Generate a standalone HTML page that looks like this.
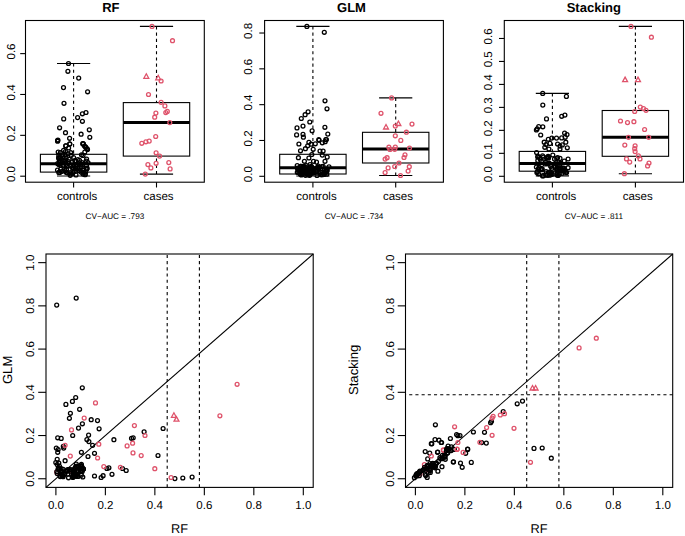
<!DOCTYPE html>
<html><head><meta charset="utf-8"><style>
html,body{margin:0;padding:0;background:#fff;}
svg{display:block;}
text{font-family:"Liberation Sans",sans-serif;fill:#000;stroke:none;text-rendering:geometricPrecision;}
</style></head><body>
<svg width="685" height="536" viewBox="0 0 685 536" stroke="#000" fill="none">
<rect x="0" y="0" width="685" height="536" fill="#fff" stroke="none"/>
<g stroke="#000">
<rect x="25.5" y="20.5" width="178.80" height="161.70" stroke-width="1.1" fill="none"/>
<text x="110.9" y="12.0" font-size="13" text-anchor="middle" font-weight="bold">RF</text>
<line x1="20.2" y1="176.2" x2="25.5" y2="176.2" stroke-width="1.1"/>
<text x="0" y="0" transform="translate(15.1,174.1) rotate(-90)" font-size="11.5" text-anchor="middle" font-weight="normal">0.0</text>
<line x1="20.2" y1="135.33999999999997" x2="25.5" y2="135.33999999999997" stroke-width="1.1"/>
<text x="0" y="0" transform="translate(15.1,133.24) rotate(-90)" font-size="11.5" text-anchor="middle" font-weight="normal">0.2</text>
<line x1="20.2" y1="94.47999999999998" x2="25.5" y2="94.47999999999998" stroke-width="1.1"/>
<text x="0" y="0" transform="translate(15.1,92.38) rotate(-90)" font-size="11.5" text-anchor="middle" font-weight="normal">0.4</text>
<line x1="20.2" y1="53.61999999999999" x2="25.5" y2="53.61999999999999" stroke-width="1.1"/>
<text x="0" y="0" transform="translate(15.1,51.52) rotate(-90)" font-size="11.5" text-anchor="middle" font-weight="normal">0.6</text>
<line x1="73.6" y1="182.2" x2="73.6" y2="187.5" stroke-width="1.1"/>
<line x1="156.5" y1="182.2" x2="156.5" y2="187.5" stroke-width="1.1"/>
<text x="77.1" y="199.5" font-size="11.5" text-anchor="middle" font-weight="normal">controls</text>
<text x="158.6" y="199.5" font-size="11.5" text-anchor="middle" font-weight="normal">cases</text>
<text x="114.9" y="218.8" font-size="8.2" text-anchor="middle" font-weight="normal">CV&#8722;AUC = .793</text>
<line x1="73.6" y1="63.5" x2="73.6" y2="154.3" stroke-width="1.1" stroke-dasharray="3.1 3.1"/>
<line x1="73.6" y1="176.0" x2="73.6" y2="172.1" stroke-width="1.1" stroke-dasharray="3.1 3.1"/>
<line x1="56.99999999999999" y1="63.5" x2="90.19999999999999" y2="63.5" stroke-width="1.1"/>
<line x1="56.99999999999999" y1="176.0" x2="90.19999999999999" y2="176.0" stroke-width="1.1"/>
<rect x="40.40" y="154.3" width="66.40" height="17.80" stroke-width="1.1" fill="none"/>
<line x1="40.39999999999999" y1="163.7" x2="106.8" y2="163.7" stroke-width="3.0"/>
<line x1="156.5" y1="26.4" x2="156.5" y2="102.6" stroke-width="1.1" stroke-dasharray="3.1 3.1"/>
<line x1="156.5" y1="174.1" x2="156.5" y2="156.1" stroke-width="1.1" stroke-dasharray="3.1 3.1"/>
<line x1="139.9" y1="26.4" x2="173.1" y2="26.4" stroke-width="1.1"/>
<line x1="139.9" y1="174.1" x2="173.1" y2="174.1" stroke-width="1.1"/>
<rect x="123.30" y="102.6" width="66.40" height="53.50" stroke-width="1.1" fill="none"/>
<line x1="123.3" y1="122.4" x2="189.7" y2="122.4" stroke-width="3.0"/>
<rect x="264.6" y="20.5" width="178.80" height="161.70" stroke-width="1.1" fill="none"/>
<text x="351.5" y="12.0" font-size="13" text-anchor="middle" font-weight="bold">GLM</text>
<line x1="259.3" y1="176.3" x2="264.6" y2="176.3" stroke-width="1.1"/>
<text x="0" y="0" transform="translate(252.3,174.2) rotate(-90)" font-size="11.5" text-anchor="middle" font-weight="normal">0.0</text>
<line x1="259.3" y1="140.48000000000002" x2="264.6" y2="140.48000000000002" stroke-width="1.1"/>
<text x="0" y="0" transform="translate(252.3,138.38) rotate(-90)" font-size="11.5" text-anchor="middle" font-weight="normal">0.2</text>
<line x1="259.3" y1="104.66000000000001" x2="264.6" y2="104.66000000000001" stroke-width="1.1"/>
<text x="0" y="0" transform="translate(252.3,102.56) rotate(-90)" font-size="11.5" text-anchor="middle" font-weight="normal">0.4</text>
<line x1="259.3" y1="68.84000000000002" x2="264.6" y2="68.84000000000002" stroke-width="1.1"/>
<text x="0" y="0" transform="translate(252.3,66.74) rotate(-90)" font-size="11.5" text-anchor="middle" font-weight="normal">0.6</text>
<line x1="259.3" y1="33.02000000000001" x2="264.6" y2="33.02000000000001" stroke-width="1.1"/>
<text x="0" y="0" transform="translate(252.3,30.92) rotate(-90)" font-size="11.5" text-anchor="middle" font-weight="normal">0.8</text>
<line x1="312.9" y1="182.2" x2="312.9" y2="187.5" stroke-width="1.1"/>
<line x1="395.7" y1="182.2" x2="395.7" y2="187.5" stroke-width="1.1"/>
<text x="316.5" y="199.5" font-size="11.5" text-anchor="middle" font-weight="normal">controls</text>
<text x="398.0" y="199.5" font-size="11.5" text-anchor="middle" font-weight="normal">cases</text>
<text x="354.0" y="218.8" font-size="8.2" text-anchor="middle" font-weight="normal">CV&#8722;AUC = .734</text>
<line x1="312.9" y1="26.4" x2="312.9" y2="154.3" stroke-width="1.1" stroke-dasharray="3.1 3.1"/>
<line x1="312.9" y1="176.0" x2="312.9" y2="174.0" stroke-width="1.1" stroke-dasharray="3.1 3.1"/>
<line x1="296.29999999999995" y1="26.4" x2="329.5" y2="26.4" stroke-width="1.1"/>
<line x1="296.29999999999995" y1="176.0" x2="329.5" y2="176.0" stroke-width="1.1"/>
<rect x="279.70" y="154.3" width="66.40" height="19.70" stroke-width="1.1" fill="none"/>
<line x1="279.7" y1="167.7" x2="346.09999999999997" y2="167.7" stroke-width="3.0"/>
<line x1="395.7" y1="97.9" x2="395.7" y2="132.3" stroke-width="1.1" stroke-dasharray="3.1 3.1"/>
<line x1="395.7" y1="175.5" x2="395.7" y2="163.0" stroke-width="1.1" stroke-dasharray="3.1 3.1"/>
<line x1="379.09999999999997" y1="97.9" x2="412.3" y2="97.9" stroke-width="1.1"/>
<line x1="379.09999999999997" y1="175.5" x2="412.3" y2="175.5" stroke-width="1.1"/>
<rect x="362.50" y="132.3" width="66.40" height="30.70" stroke-width="1.1" fill="none"/>
<line x1="362.5" y1="148.9" x2="428.9" y2="148.9" stroke-width="3.0"/>
<rect x="504.3" y="20.5" width="179.20" height="161.70" stroke-width="1.1" fill="none"/>
<text x="593.8" y="12.0" font-size="13" text-anchor="middle" font-weight="bold">Stacking</text>
<line x1="499.0" y1="176.3" x2="504.3" y2="176.3" stroke-width="1.1"/>
<text x="0" y="0" transform="translate(491.8,174.2) rotate(-90)" font-size="11.5" text-anchor="middle" font-weight="normal">0.0</text>
<line x1="499.0" y1="153.33" x2="504.3" y2="153.33" stroke-width="1.1"/>
<text x="0" y="0" transform="translate(491.8,151.23) rotate(-90)" font-size="11.5" text-anchor="middle" font-weight="normal">0.1</text>
<line x1="499.0" y1="130.36" x2="504.3" y2="130.36" stroke-width="1.1"/>
<text x="0" y="0" transform="translate(491.8,128.26) rotate(-90)" font-size="11.5" text-anchor="middle" font-weight="normal">0.2</text>
<line x1="499.0" y1="107.39000000000001" x2="504.3" y2="107.39000000000001" stroke-width="1.1"/>
<text x="0" y="0" transform="translate(491.8,105.29) rotate(-90)" font-size="11.5" text-anchor="middle" font-weight="normal">0.3</text>
<line x1="499.0" y1="84.42000000000002" x2="504.3" y2="84.42000000000002" stroke-width="1.1"/>
<text x="0" y="0" transform="translate(491.8,82.32) rotate(-90)" font-size="11.5" text-anchor="middle" font-weight="normal">0.4</text>
<line x1="499.0" y1="61.45000000000002" x2="504.3" y2="61.45000000000002" stroke-width="1.1"/>
<text x="0" y="0" transform="translate(491.8,59.35) rotate(-90)" font-size="11.5" text-anchor="middle" font-weight="normal">0.5</text>
<line x1="499.0" y1="38.48000000000002" x2="504.3" y2="38.48000000000002" stroke-width="1.1"/>
<text x="0" y="0" transform="translate(491.8,36.38) rotate(-90)" font-size="11.5" text-anchor="middle" font-weight="normal">0.6</text>
<line x1="552.4" y1="182.2" x2="552.4" y2="187.5" stroke-width="1.1"/>
<line x1="635.4" y1="182.2" x2="635.4" y2="187.5" stroke-width="1.1"/>
<text x="556.2" y="199.5" font-size="11.5" text-anchor="middle" font-weight="normal">controls</text>
<text x="637.7" y="199.5" font-size="11.5" text-anchor="middle" font-weight="normal">cases</text>
<text x="593.9" y="218.8" font-size="8.2" text-anchor="middle" font-weight="normal">CV&#8722;AUC = .811</text>
<line x1="552.4" y1="93.4" x2="552.4" y2="151.4" stroke-width="1.1" stroke-dasharray="3.1 3.1"/>
<line x1="552.4" y1="175.9" x2="552.4" y2="171.2" stroke-width="1.1" stroke-dasharray="3.1 3.1"/>
<line x1="535.8" y1="93.4" x2="569.0" y2="93.4" stroke-width="1.1"/>
<line x1="535.8" y1="175.9" x2="569.0" y2="175.9" stroke-width="1.1"/>
<rect x="519.20" y="151.4" width="66.40" height="19.80" stroke-width="1.1" fill="none"/>
<line x1="519.1999999999999" y1="163.6" x2="585.6" y2="163.6" stroke-width="3.0"/>
<line x1="635.4" y1="26.4" x2="635.4" y2="110.5" stroke-width="1.1" stroke-dasharray="3.1 3.1"/>
<line x1="635.4" y1="173.7" x2="635.4" y2="156.3" stroke-width="1.1" stroke-dasharray="3.1 3.1"/>
<line x1="618.8" y1="26.4" x2="652.0" y2="26.4" stroke-width="1.1"/>
<line x1="618.8" y1="173.7" x2="652.0" y2="173.7" stroke-width="1.1"/>
<rect x="602.20" y="110.5" width="66.40" height="45.80" stroke-width="1.1" fill="none"/>
<line x1="602.1999999999999" y1="137.3" x2="668.6" y2="137.3" stroke-width="3.0"/>
<rect x="46.0" y="254.0" width="267.20" height="233.40" stroke-width="1.1" fill="none"/>
<line x1="55.8962962962963" y1="487.4" x2="55.8962962962963" y2="495.2" stroke-width="1.1"/>
<text x="55.8962962962963" y="508.6" font-size="11.5" text-anchor="middle" font-weight="normal">0.0</text>
<line x1="38.2" y1="478.75555555555553" x2="46.0" y2="478.75555555555553" stroke-width="1.1"/>
<text x="0" y="0" transform="translate(34.0,478.75555555555553) rotate(-90)" font-size="11.5" text-anchor="middle" font-weight="normal">0.0</text>
<line x1="105.37777777777778" y1="487.4" x2="105.37777777777778" y2="495.2" stroke-width="1.1"/>
<text x="105.37777777777778" y="508.6" font-size="11.5" text-anchor="middle" font-weight="normal">0.2</text>
<line x1="38.2" y1="435.5333333333333" x2="46.0" y2="435.5333333333333" stroke-width="1.1"/>
<text x="0" y="0" transform="translate(34.0,435.5333333333333) rotate(-90)" font-size="11.5" text-anchor="middle" font-weight="normal">0.2</text>
<line x1="154.85925925925926" y1="487.4" x2="154.85925925925926" y2="495.2" stroke-width="1.1"/>
<text x="154.85925925925926" y="508.6" font-size="11.5" text-anchor="middle" font-weight="normal">0.4</text>
<line x1="38.2" y1="392.3111111111111" x2="46.0" y2="392.3111111111111" stroke-width="1.1"/>
<text x="0" y="0" transform="translate(34.0,392.3111111111111) rotate(-90)" font-size="11.5" text-anchor="middle" font-weight="normal">0.4</text>
<line x1="204.34074074074076" y1="487.4" x2="204.34074074074076" y2="495.2" stroke-width="1.1"/>
<text x="204.34074074074076" y="508.6" font-size="11.5" text-anchor="middle" font-weight="normal">0.6</text>
<line x1="38.2" y1="349.08888888888885" x2="46.0" y2="349.08888888888885" stroke-width="1.1"/>
<text x="0" y="0" transform="translate(34.0,349.08888888888885) rotate(-90)" font-size="11.5" text-anchor="middle" font-weight="normal">0.6</text>
<line x1="253.82222222222222" y1="487.4" x2="253.82222222222222" y2="495.2" stroke-width="1.1"/>
<text x="253.82222222222222" y="508.6" font-size="11.5" text-anchor="middle" font-weight="normal">0.8</text>
<line x1="38.2" y1="305.8666666666667" x2="46.0" y2="305.8666666666667" stroke-width="1.1"/>
<text x="0" y="0" transform="translate(34.0,305.8666666666667) rotate(-90)" font-size="11.5" text-anchor="middle" font-weight="normal">0.8</text>
<line x1="303.3037037037037" y1="487.4" x2="303.3037037037037" y2="495.2" stroke-width="1.1"/>
<text x="303.3037037037037" y="508.6" font-size="11.5" text-anchor="middle" font-weight="normal">1.0</text>
<line x1="38.2" y1="262.64444444444445" x2="46.0" y2="262.64444444444445" stroke-width="1.1"/>
<text x="0" y="0" transform="translate(34.0,262.64444444444445) rotate(-90)" font-size="11.5" text-anchor="middle" font-weight="normal">1.0</text>
<text x="179.6" y="533.0" font-size="12.8" text-anchor="middle" font-weight="normal">RF</text>
<text x="0" y="0" transform="translate(11.7,369.9) rotate(-90)" font-size="13.1" text-anchor="middle" font-weight="normal">GLM</text>
<line x1="46.0" y1="487.4" x2="313.2" y2="254.0" stroke-width="1.1"/>
<line x1="167.2" y1="487.4" x2="167.2" y2="254.0" stroke-width="1.1" stroke-dasharray="3.1 3.1"/>
<line x1="199.4" y1="487.4" x2="199.4" y2="254.0" stroke-width="1.1" stroke-dasharray="3.1 3.1"/>
<rect x="405.5" y="254.0" width="267.20" height="233.40" stroke-width="1.1" fill="none"/>
<line x1="415.39629629629627" y1="487.4" x2="415.39629629629627" y2="495.2" stroke-width="1.1"/>
<text x="415.39629629629627" y="508.6" font-size="11.5" text-anchor="middle" font-weight="normal">0.0</text>
<line x1="397.7" y1="478.75555555555553" x2="405.5" y2="478.75555555555553" stroke-width="1.1"/>
<text x="0" y="0" transform="translate(393.5,478.75555555555553) rotate(-90)" font-size="11.5" text-anchor="middle" font-weight="normal">0.0</text>
<line x1="464.87777777777774" y1="487.4" x2="464.87777777777774" y2="495.2" stroke-width="1.1"/>
<text x="464.87777777777774" y="508.6" font-size="11.5" text-anchor="middle" font-weight="normal">0.2</text>
<line x1="397.7" y1="435.5333333333333" x2="405.5" y2="435.5333333333333" stroke-width="1.1"/>
<text x="0" y="0" transform="translate(393.5,435.5333333333333) rotate(-90)" font-size="11.5" text-anchor="middle" font-weight="normal">0.2</text>
<line x1="514.3592592592593" y1="487.4" x2="514.3592592592593" y2="495.2" stroke-width="1.1"/>
<text x="514.3592592592593" y="508.6" font-size="11.5" text-anchor="middle" font-weight="normal">0.4</text>
<line x1="397.7" y1="392.3111111111111" x2="405.5" y2="392.3111111111111" stroke-width="1.1"/>
<text x="0" y="0" transform="translate(393.5,392.3111111111111) rotate(-90)" font-size="11.5" text-anchor="middle" font-weight="normal">0.4</text>
<line x1="563.8407407407408" y1="487.4" x2="563.8407407407408" y2="495.2" stroke-width="1.1"/>
<text x="563.8407407407408" y="508.6" font-size="11.5" text-anchor="middle" font-weight="normal">0.6</text>
<line x1="397.7" y1="349.08888888888885" x2="405.5" y2="349.08888888888885" stroke-width="1.1"/>
<text x="0" y="0" transform="translate(393.5,349.08888888888885) rotate(-90)" font-size="11.5" text-anchor="middle" font-weight="normal">0.6</text>
<line x1="613.3222222222223" y1="487.4" x2="613.3222222222223" y2="495.2" stroke-width="1.1"/>
<text x="613.3222222222223" y="508.6" font-size="11.5" text-anchor="middle" font-weight="normal">0.8</text>
<line x1="397.7" y1="305.8666666666667" x2="405.5" y2="305.8666666666667" stroke-width="1.1"/>
<text x="0" y="0" transform="translate(393.5,305.8666666666667) rotate(-90)" font-size="11.5" text-anchor="middle" font-weight="normal">0.8</text>
<line x1="662.8037037037037" y1="487.4" x2="662.8037037037037" y2="495.2" stroke-width="1.1"/>
<text x="662.8037037037037" y="508.6" font-size="11.5" text-anchor="middle" font-weight="normal">1.0</text>
<line x1="397.7" y1="262.64444444444445" x2="405.5" y2="262.64444444444445" stroke-width="1.1"/>
<text x="0" y="0" transform="translate(393.5,262.64444444444445) rotate(-90)" font-size="11.5" text-anchor="middle" font-weight="normal">1.0</text>
<text x="539.1" y="533.0" font-size="12.8" text-anchor="middle" font-weight="normal">RF</text>
<text x="0" y="0" transform="translate(357.8,369.9) rotate(-90)" font-size="13.1" text-anchor="middle" font-weight="normal">Stacking</text>
<line x1="405.5" y1="487.4" x2="672.7" y2="254.0" stroke-width="1.1"/>
<line x1="526.7" y1="487.4" x2="526.7" y2="254.0" stroke-width="1.1" stroke-dasharray="3.1 3.1"/>
<line x1="558.9" y1="487.4" x2="558.9" y2="254.0" stroke-width="1.1" stroke-dasharray="3.1 3.1"/>
<line x1="672.7" y1="394.7" x2="405.5" y2="394.7" stroke-width="1.1" stroke-dasharray="3.1 3.1"/>
<g fill="none" stroke-width="1.3">
<circle cx="68.5" cy="63.5" r="1.95" stroke="#000000"/>
<circle cx="67.9" cy="71.3" r="1.95" stroke="#000000"/>
<circle cx="78.7" cy="78.1" r="1.95" stroke="#000000"/>
<circle cx="63.5" cy="87.6" r="1.95" stroke="#000000"/>
<circle cx="87.6" cy="91.8" r="1.95" stroke="#000000"/>
<circle cx="64.0" cy="103.3" r="1.95" stroke="#000000"/>
<circle cx="86.0" cy="112.5" r="1.95" stroke="#000000"/>
<circle cx="82.4" cy="113.8" r="1.95" stroke="#000000"/>
<circle cx="77.6" cy="117.6" r="1.95" stroke="#000000"/>
<circle cx="82.4" cy="121.3" r="1.95" stroke="#000000"/>
<circle cx="63.7" cy="118.9" r="1.95" stroke="#000000"/>
<circle cx="59.6" cy="127.8" r="1.95" stroke="#000000"/>
<circle cx="89.3" cy="129.8" r="1.95" stroke="#000000"/>
<circle cx="65.5" cy="132.7" r="1.95" stroke="#000000"/>
<circle cx="81.1" cy="134.2" r="1.95" stroke="#000000"/>
<circle cx="69.6" cy="138.3" r="1.95" stroke="#000000"/>
<circle cx="89.8" cy="137.3" r="1.95" stroke="#000000"/>
<circle cx="57.6" cy="140.5" r="1.95" stroke="#000000"/>
<circle cx="57.9" cy="140.0" r="1.95" stroke="#000000"/>
<circle cx="69.8" cy="144.1" r="1.95" stroke="#000000"/>
<circle cx="65.8" cy="145.8" r="1.95" stroke="#000000"/>
<circle cx="83.4" cy="143.9" r="1.95" stroke="#000000"/>
<circle cx="85.5" cy="146.8" r="1.95" stroke="#000000"/>
<circle cx="87.0" cy="148.8" r="1.95" stroke="#000000"/>
<circle cx="68.6" cy="148.0" r="1.95" stroke="#000000"/>
<circle cx="58.2" cy="152.1" r="1.95" stroke="#000000"/>
<circle cx="65.8" cy="145.9" r="1.95" stroke="#000000"/>
<circle cx="69.7" cy="143.9" r="1.95" stroke="#000000"/>
<circle cx="83.0" cy="143.9" r="1.95" stroke="#000000"/>
<circle cx="57.6" cy="141.2" r="1.95" stroke="#000000"/>
<circle cx="82.8" cy="143.5" r="1.95" stroke="#000000"/>
<circle cx="84.5" cy="146.0" r="1.95" stroke="#000000"/>
<circle cx="86.0" cy="147.5" r="1.95" stroke="#000000"/>
<circle cx="87.5" cy="149.4" r="1.95" stroke="#000000"/>
<circle cx="306.9" cy="26.4" r="1.95" stroke="#000000"/>
<circle cx="324.3" cy="32.3" r="1.95" stroke="#000000"/>
<circle cx="325.0" cy="100.8" r="1.95" stroke="#000000"/>
<circle cx="327.0" cy="108.8" r="1.95" stroke="#000000"/>
<circle cx="308.1" cy="111.8" r="1.95" stroke="#000000"/>
<circle cx="305.1" cy="114.7" r="1.95" stroke="#000000"/>
<circle cx="301.3" cy="118.5" r="1.95" stroke="#000000"/>
<circle cx="309.8" cy="122.0" r="1.95" stroke="#000000"/>
<circle cx="303.0" cy="126.1" r="1.95" stroke="#000000"/>
<circle cx="297.0" cy="127.9" r="1.95" stroke="#000000"/>
<circle cx="324.9" cy="127.3" r="1.95" stroke="#000000"/>
<circle cx="312.1" cy="130.8" r="1.95" stroke="#000000"/>
<circle cx="296.6" cy="134.9" r="1.95" stroke="#000000"/>
<circle cx="303.0" cy="134.3" r="1.95" stroke="#000000"/>
<circle cx="303.4" cy="137.2" r="1.95" stroke="#000000"/>
<circle cx="327.8" cy="134.1" r="1.95" stroke="#000000"/>
<circle cx="318.8" cy="139.6" r="1.95" stroke="#000000"/>
<circle cx="325.8" cy="139.6" r="1.95" stroke="#000000"/>
<circle cx="298.9" cy="144.0" r="1.95" stroke="#000000"/>
<circle cx="308.9" cy="142.3" r="1.95" stroke="#000000"/>
<circle cx="307.7" cy="145.8" r="1.95" stroke="#000000"/>
<circle cx="305.4" cy="148.7" r="1.95" stroke="#000000"/>
<circle cx="300.5" cy="150.8" r="1.95" stroke="#000000"/>
<circle cx="311.2" cy="144.2" r="1.95" stroke="#000000"/>
<circle cx="315.3" cy="143.8" r="1.95" stroke="#000000"/>
<circle cx="319.0" cy="140.3" r="1.95" stroke="#000000"/>
<circle cx="322.3" cy="142.8" r="1.95" stroke="#000000"/>
<circle cx="325.2" cy="141.7" r="1.95" stroke="#000000"/>
<circle cx="326.4" cy="139.6" r="1.95" stroke="#000000"/>
<circle cx="313.2" cy="149.3" r="1.95" stroke="#000000"/>
<circle cx="320.0" cy="151.0" r="1.95" stroke="#000000"/>
<circle cx="323.1" cy="151.0" r="1.95" stroke="#000000"/>
<circle cx="311.8" cy="154.5" r="1.95" stroke="#000000"/>
<circle cx="322.3" cy="155.1" r="1.95" stroke="#000000"/>
<circle cx="327.2" cy="157.1" r="1.95" stroke="#000000"/>
<circle cx="298.4" cy="157.7" r="1.95" stroke="#000000"/>
<circle cx="308.9" cy="158.0" r="1.95" stroke="#000000"/>
<circle cx="304.4" cy="161.3" r="1.95" stroke="#000000"/>
<circle cx="313.5" cy="161.3" r="1.95" stroke="#000000"/>
<circle cx="316.5" cy="162.1" r="1.95" stroke="#000000"/>
<circle cx="325.0" cy="161.3" r="1.95" stroke="#000000"/>
<circle cx="310.0" cy="164.5" r="1.95" stroke="#000000"/>
<circle cx="329.0" cy="166.8" r="1.95" stroke="#000000"/>
<circle cx="297.2" cy="165.6" r="1.95" stroke="#000000"/>
<circle cx="542.7" cy="93.4" r="1.95" stroke="#000000"/>
<circle cx="566.4" cy="96.4" r="1.95" stroke="#000000"/>
<circle cx="542.8" cy="105.1" r="1.95" stroke="#000000"/>
<circle cx="546.5" cy="118.9" r="1.95" stroke="#000000"/>
<circle cx="561.7" cy="116.3" r="1.95" stroke="#000000"/>
<circle cx="564.9" cy="115.1" r="1.95" stroke="#000000"/>
<circle cx="538.7" cy="126.5" r="1.95" stroke="#000000"/>
<circle cx="542.8" cy="126.8" r="1.95" stroke="#000000"/>
<circle cx="536.4" cy="130.0" r="1.95" stroke="#000000"/>
<circle cx="537.2" cy="128.8" r="1.95" stroke="#000000"/>
<circle cx="540.7" cy="135.0" r="1.95" stroke="#000000"/>
<circle cx="564.6" cy="133.1" r="1.95" stroke="#000000"/>
<circle cx="567.0" cy="134.6" r="1.95" stroke="#000000"/>
<circle cx="548.3" cy="139.3" r="1.95" stroke="#000000"/>
<circle cx="551.8" cy="138.1" r="1.95" stroke="#000000"/>
<circle cx="556.5" cy="138.1" r="1.95" stroke="#000000"/>
<circle cx="561.7" cy="137.9" r="1.95" stroke="#000000"/>
<circle cx="565.2" cy="137.3" r="1.95" stroke="#000000"/>
<circle cx="544.2" cy="142.2" r="1.95" stroke="#000000"/>
<circle cx="550.0" cy="143.4" r="1.95" stroke="#000000"/>
<circle cx="557.6" cy="144.0" r="1.95" stroke="#000000"/>
<circle cx="565.8" cy="142.2" r="1.95" stroke="#000000"/>
<circle cx="546.0" cy="144.6" r="1.95" stroke="#000000"/>
<circle cx="544.8" cy="147.3" r="1.95" stroke="#000000"/>
<circle cx="548.9" cy="149.0" r="1.95" stroke="#000000"/>
<circle cx="560.0" cy="146.1" r="1.95" stroke="#000000"/>
<circle cx="562.3" cy="144.9" r="1.95" stroke="#000000"/>
<circle cx="567.3" cy="147.8" r="1.95" stroke="#000000"/>
<circle cx="560.0" cy="149.0" r="1.95" stroke="#000000"/>
<circle cx="536.6" cy="152.5" r="1.95" stroke="#000000"/>
<circle cx="568.1" cy="159.0" r="1.95" stroke="#000000"/>
<circle cx="538.4" cy="168.9" r="1.95" stroke="#000000"/>
<circle cx="568.1" cy="167.7" r="1.95" stroke="#000000"/>
<circle cx="56.7" cy="305.1" r="1.95" stroke="#000000"/>
<circle cx="76.2" cy="298.1" r="1.95" stroke="#000000"/>
<circle cx="82.3" cy="387.8" r="1.95" stroke="#000000"/>
<circle cx="75.7" cy="397.5" r="1.95" stroke="#000000"/>
<circle cx="72.4" cy="401.4" r="1.95" stroke="#000000"/>
<circle cx="65.9" cy="404.4" r="1.95" stroke="#000000"/>
<circle cx="79.6" cy="409.3" r="1.95" stroke="#000000"/>
<circle cx="70.4" cy="413.3" r="1.95" stroke="#000000"/>
<circle cx="69.4" cy="418.3" r="1.95" stroke="#000000"/>
<circle cx="91.2" cy="419.7" r="1.95" stroke="#000000"/>
<circle cx="97.5" cy="420.6" r="1.95" stroke="#000000"/>
<circle cx="82.4" cy="423.8" r="1.95" stroke="#000000"/>
<circle cx="78.5" cy="428.1" r="1.95" stroke="#000000"/>
<circle cx="99.1" cy="428.8" r="1.95" stroke="#000000"/>
<circle cx="72.7" cy="435.5" r="1.95" stroke="#000000"/>
<circle cx="88.6" cy="435.1" r="1.95" stroke="#000000"/>
<circle cx="57.7" cy="437.8" r="1.95" stroke="#000000"/>
<circle cx="61.2" cy="438.4" r="1.95" stroke="#000000"/>
<circle cx="86.9" cy="439.6" r="1.95" stroke="#000000"/>
<circle cx="163.1" cy="428.5" r="1.95" stroke="#000000"/>
<circle cx="144.1" cy="431.8" r="1.95" stroke="#000000"/>
<circle cx="88.9" cy="441.6" r="1.95" stroke="#000000"/>
<circle cx="92.6" cy="445.3" r="1.95" stroke="#000000"/>
<circle cx="63.3" cy="446.3" r="1.95" stroke="#000000"/>
<circle cx="56.3" cy="448.1" r="1.95" stroke="#000000"/>
<circle cx="58.1" cy="449.5" r="1.95" stroke="#000000"/>
<circle cx="57.7" cy="452.3" r="1.95" stroke="#000000"/>
<circle cx="63.7" cy="448.1" r="1.95" stroke="#000000"/>
<circle cx="81.4" cy="452.3" r="1.95" stroke="#000000"/>
<circle cx="94.5" cy="453.3" r="1.95" stroke="#000000"/>
<circle cx="88.0" cy="456.5" r="1.95" stroke="#000000"/>
<circle cx="57.2" cy="459.3" r="1.95" stroke="#000000"/>
<circle cx="65.1" cy="460.7" r="1.95" stroke="#000000"/>
<circle cx="55.8" cy="462.6" r="1.95" stroke="#000000"/>
<circle cx="76.3" cy="464.0" r="1.95" stroke="#000000"/>
<circle cx="82.8" cy="477.0" r="1.95" stroke="#000000"/>
<circle cx="94.5" cy="476.0" r="1.95" stroke="#000000"/>
<circle cx="113.9" cy="439.7" r="1.95" stroke="#000000"/>
<circle cx="131.5" cy="438.3" r="1.95" stroke="#000000"/>
<circle cx="133.2" cy="437.8" r="1.95" stroke="#000000"/>
<circle cx="158.0" cy="455.5" r="1.95" stroke="#000000"/>
<circle cx="106.9" cy="468.5" r="1.95" stroke="#000000"/>
<circle cx="108.9" cy="467.8" r="1.95" stroke="#000000"/>
<circle cx="122.5" cy="468.5" r="1.95" stroke="#000000"/>
<circle cx="126.2" cy="470.5" r="1.95" stroke="#000000"/>
<circle cx="101.1" cy="477.5" r="1.95" stroke="#000000"/>
<circle cx="103.1" cy="475.7" r="1.95" stroke="#000000"/>
<circle cx="112.0" cy="474.3" r="1.95" stroke="#000000"/>
<circle cx="174.9" cy="478.6" r="1.95" stroke="#000000"/>
<circle cx="182.8" cy="478.0" r="1.95" stroke="#000000"/>
<circle cx="192.1" cy="477.1" r="1.95" stroke="#000000"/>
<circle cx="517.2" cy="403.8" r="1.95" stroke="#000000"/>
<circle cx="522.5" cy="401.1" r="1.95" stroke="#000000"/>
<circle cx="503.2" cy="411.6" r="1.95" stroke="#000000"/>
<circle cx="491.5" cy="421.3" r="1.95" stroke="#000000"/>
<circle cx="490.6" cy="422.7" r="1.95" stroke="#000000"/>
<circle cx="484.5" cy="432.3" r="1.95" stroke="#000000"/>
<circle cx="473.4" cy="432.0" r="1.95" stroke="#000000"/>
<circle cx="481.6" cy="442.6" r="1.95" stroke="#000000"/>
<circle cx="486.3" cy="443.1" r="1.95" stroke="#000000"/>
<circle cx="467.6" cy="449.0" r="1.95" stroke="#000000"/>
<circle cx="460.0" cy="435.5" r="1.95" stroke="#000000"/>
<circle cx="534.0" cy="448.4" r="1.95" stroke="#000000"/>
<circle cx="542.2" cy="448.0" r="1.95" stroke="#000000"/>
<circle cx="551.3" cy="458.2" r="1.95" stroke="#000000"/>
<circle cx="435.4" cy="424.8" r="1.95" stroke="#000000"/>
<circle cx="456.6" cy="434.6" r="1.95" stroke="#000000"/>
<circle cx="457.9" cy="435.7" r="1.95" stroke="#000000"/>
<circle cx="450.4" cy="438.5" r="1.95" stroke="#000000"/>
<circle cx="435.0" cy="439.6" r="1.95" stroke="#000000"/>
<circle cx="439.0" cy="440.2" r="1.95" stroke="#000000"/>
<circle cx="441.6" cy="442.5" r="1.95" stroke="#000000"/>
<circle cx="431.8" cy="443.8" r="1.95" stroke="#000000"/>
<circle cx="467.7" cy="449.4" r="1.95" stroke="#000000"/>
<circle cx="465.7" cy="453.3" r="1.95" stroke="#000000"/>
<circle cx="425.2" cy="451.6" r="1.95" stroke="#000000"/>
<circle cx="437.7" cy="452.0" r="1.95" stroke="#000000"/>
<circle cx="448.1" cy="446.1" r="1.95" stroke="#000000"/>
<circle cx="451.4" cy="446.8" r="1.95" stroke="#000000"/>
<circle cx="454.0" cy="449.4" r="1.95" stroke="#000000"/>
<circle cx="453.3" cy="462.0" r="1.95" stroke="#000000"/>
<circle cx="460.5" cy="463.1" r="1.95" stroke="#000000"/>
<circle cx="462.2" cy="467.3" r="1.95" stroke="#000000"/>
<circle cx="471.3" cy="462.4" r="1.95" stroke="#000000"/>
<circle cx="429.7" cy="453.1" r="1.95" stroke="#000000"/>
<circle cx="427.7" cy="458.9" r="1.95" stroke="#000000"/>
<circle cx="437.5" cy="452.3" r="1.95" stroke="#000000"/>
<circle cx="447.8" cy="452.7" r="1.95" stroke="#000000"/>
<circle cx="445.3" cy="459.3" r="1.95" stroke="#000000"/>
<circle cx="442.0" cy="466.7" r="1.95" stroke="#000000"/>
<circle cx="437.9" cy="471.2" r="1.95" stroke="#000000"/>
<circle cx="427.2" cy="477.4" r="1.95" stroke="#000000"/>
<circle cx="453.5" cy="461.8" r="1.95" stroke="#000000"/>
<circle cx="454.3" cy="449.4" r="1.95" stroke="#000000"/>
<circle cx="431.3" cy="443.7" r="1.95" stroke="#000000"/>
<circle cx="441.2" cy="442.5" r="1.95" stroke="#000000"/>
<circle cx="152.0" cy="26.4" r="1.95" stroke="#DF536B"/>
<circle cx="172.5" cy="40.7" r="1.95" stroke="#DF536B"/>
<path d="M146.30 73.80L148.75 78.30L143.85 78.30Z" stroke="#DF536B" stroke-linejoin="miter"/>
<path d="M158.20 75.30L160.65 79.80L155.75 79.80Z" stroke="#DF536B" stroke-linejoin="miter"/>
<circle cx="161.1" cy="81.0" r="1.95" stroke="#DF536B"/>
<circle cx="148.5" cy="94.5" r="1.95" stroke="#DF536B"/>
<circle cx="161.1" cy="102.3" r="1.95" stroke="#DF536B"/>
<circle cx="164.9" cy="105.9" r="1.95" stroke="#DF536B"/>
<circle cx="155.9" cy="113.1" r="1.95" stroke="#DF536B"/>
<circle cx="154.7" cy="117.2" r="1.95" stroke="#DF536B"/>
<circle cx="165.8" cy="112.6" r="1.95" stroke="#DF536B"/>
<circle cx="167.3" cy="111.4" r="1.95" stroke="#DF536B"/>
<circle cx="169.8" cy="122.6" r="1.95" stroke="#DF536B"/>
<circle cx="155.7" cy="136.5" r="1.95" stroke="#DF536B"/>
<circle cx="149.2" cy="141.1" r="1.95" stroke="#DF536B"/>
<circle cx="145.9" cy="141.8" r="1.95" stroke="#DF536B"/>
<circle cx="141.8" cy="143.3" r="1.95" stroke="#DF536B"/>
<circle cx="156.1" cy="152.8" r="1.95" stroke="#DF536B"/>
<circle cx="159.6" cy="156.1" r="1.95" stroke="#DF536B"/>
<circle cx="147.9" cy="164.6" r="1.95" stroke="#DF536B"/>
<circle cx="156.1" cy="163.3" r="1.95" stroke="#DF536B"/>
<circle cx="150.9" cy="167.9" r="1.95" stroke="#DF536B"/>
<circle cx="168.8" cy="162.6" r="1.95" stroke="#DF536B"/>
<circle cx="170.1" cy="168.9" r="1.95" stroke="#DF536B"/>
<circle cx="145.3" cy="174.1" r="1.95" stroke="#DF536B"/>
<circle cx="391.6" cy="97.9" r="1.95" stroke="#DF536B"/>
<circle cx="381.0" cy="113.3" r="1.95" stroke="#DF536B"/>
<path d="M386.00 124.50L388.45 129.00L383.55 129.00Z" stroke="#DF536B" stroke-linejoin="miter"/>
<path d="M398.40 121.00L400.85 125.50L395.95 125.50Z" stroke="#DF536B" stroke-linejoin="miter"/>
<circle cx="395.3" cy="126.1" r="1.95" stroke="#DF536B"/>
<circle cx="412.0" cy="124.1" r="1.95" stroke="#DF536B"/>
<circle cx="406.4" cy="132.2" r="1.95" stroke="#DF536B"/>
<circle cx="395.3" cy="135.8" r="1.95" stroke="#DF536B"/>
<circle cx="400.8" cy="140.4" r="1.95" stroke="#DF536B"/>
<circle cx="388.9" cy="147.2" r="1.95" stroke="#DF536B"/>
<circle cx="390.0" cy="149.5" r="1.95" stroke="#DF536B"/>
<circle cx="395.3" cy="147.0" r="1.95" stroke="#DF536B"/>
<circle cx="394.7" cy="149.3" r="1.95" stroke="#DF536B"/>
<circle cx="409.5" cy="148.0" r="1.95" stroke="#DF536B"/>
<circle cx="405.0" cy="154.8" r="1.95" stroke="#DF536B"/>
<circle cx="404.0" cy="157.5" r="1.95" stroke="#DF536B"/>
<circle cx="387.1" cy="157.7" r="1.95" stroke="#DF536B"/>
<circle cx="385.1" cy="159.1" r="1.95" stroke="#DF536B"/>
<circle cx="399.0" cy="163.0" r="1.95" stroke="#DF536B"/>
<circle cx="394.7" cy="166.5" r="1.95" stroke="#DF536B"/>
<circle cx="388.1" cy="167.9" r="1.95" stroke="#DF536B"/>
<circle cx="409.3" cy="166.7" r="1.95" stroke="#DF536B"/>
<circle cx="408.1" cy="171.1" r="1.95" stroke="#DF536B"/>
<circle cx="385.1" cy="172.6" r="1.95" stroke="#DF536B"/>
<circle cx="400.5" cy="175.5" r="1.95" stroke="#DF536B"/>
<circle cx="631.0" cy="26.4" r="1.95" stroke="#DF536B"/>
<circle cx="651.4" cy="37.2" r="1.95" stroke="#DF536B"/>
<path d="M625.10 77.10L627.55 81.60L622.65 81.60Z" stroke="#DF536B" stroke-linejoin="miter"/>
<path d="M638.00 77.10L640.45 81.60L635.55 81.60Z" stroke="#DF536B" stroke-linejoin="miter"/>
<circle cx="640.3" cy="107.1" r="1.95" stroke="#DF536B"/>
<circle cx="643.5" cy="108.5" r="1.95" stroke="#DF536B"/>
<circle cx="646.0" cy="110.3" r="1.95" stroke="#DF536B"/>
<circle cx="634.7" cy="111.5" r="1.95" stroke="#DF536B"/>
<circle cx="620.5" cy="121.0" r="1.95" stroke="#DF536B"/>
<circle cx="627.5" cy="122.6" r="1.95" stroke="#DF536B"/>
<circle cx="633.9" cy="121.7" r="1.95" stroke="#DF536B"/>
<circle cx="644.6" cy="129.5" r="1.95" stroke="#DF536B"/>
<circle cx="628.5" cy="137.3" r="1.95" stroke="#DF536B"/>
<circle cx="648.7" cy="137.3" r="1.95" stroke="#DF536B"/>
<circle cx="624.8" cy="145.1" r="1.95" stroke="#DF536B"/>
<circle cx="635.1" cy="145.8" r="1.95" stroke="#DF536B"/>
<circle cx="634.7" cy="148.7" r="1.95" stroke="#DF536B"/>
<circle cx="635.1" cy="151.6" r="1.95" stroke="#DF536B"/>
<circle cx="638.4" cy="155.9" r="1.95" stroke="#DF536B"/>
<circle cx="640.0" cy="158.9" r="1.95" stroke="#DF536B"/>
<circle cx="626.5" cy="158.9" r="1.95" stroke="#DF536B"/>
<circle cx="629.7" cy="162.1" r="1.95" stroke="#DF536B"/>
<circle cx="649.0" cy="163.0" r="1.95" stroke="#DF536B"/>
<circle cx="647.6" cy="165.9" r="1.95" stroke="#DF536B"/>
<circle cx="624.4" cy="173.7" r="1.95" stroke="#DF536B"/>
<circle cx="95.5" cy="402.9" r="1.95" stroke="#DF536B"/>
<circle cx="84.2" cy="418.1" r="1.95" stroke="#DF536B"/>
<circle cx="71.5" cy="429.9" r="1.95" stroke="#DF536B"/>
<circle cx="134.4" cy="425.6" r="1.95" stroke="#DF536B"/>
<circle cx="145.0" cy="435.5" r="1.95" stroke="#DF536B"/>
<path d="M173.90 412.80L176.35 417.30L171.45 417.30Z" stroke="#DF536B" stroke-linejoin="miter"/>
<path d="M176.50 416.70L178.95 421.20L174.05 421.20Z" stroke="#DF536B" stroke-linejoin="miter"/>
<circle cx="237.1" cy="384.3" r="1.95" stroke="#DF536B"/>
<circle cx="219.9" cy="415.8" r="1.95" stroke="#DF536B"/>
<circle cx="65.1" cy="445.3" r="1.95" stroke="#DF536B"/>
<circle cx="70.3" cy="456.1" r="1.95" stroke="#DF536B"/>
<circle cx="70.7" cy="471.0" r="1.95" stroke="#DF536B"/>
<circle cx="56.7" cy="472.0" r="1.95" stroke="#DF536B"/>
<circle cx="98.8" cy="444.2" r="1.95" stroke="#DF536B"/>
<circle cx="127.1" cy="445.9" r="1.95" stroke="#DF536B"/>
<circle cx="132.6" cy="443.2" r="1.95" stroke="#DF536B"/>
<circle cx="133.0" cy="452.9" r="1.95" stroke="#DF536B"/>
<circle cx="141.2" cy="455.6" r="1.95" stroke="#DF536B"/>
<circle cx="97.6" cy="458.0" r="1.95" stroke="#DF536B"/>
<circle cx="103.8" cy="466.6" r="1.95" stroke="#DF536B"/>
<circle cx="120.4" cy="467.3" r="1.95" stroke="#DF536B"/>
<circle cx="154.8" cy="468.7" r="1.95" stroke="#DF536B"/>
<circle cx="171.1" cy="477.5" r="1.95" stroke="#DF536B"/>
<circle cx="579.1" cy="347.9" r="1.95" stroke="#DF536B"/>
<circle cx="596.3" cy="338.2" r="1.95" stroke="#DF536B"/>
<path d="M532.50 385.50L534.95 390.00L530.05 390.00Z" stroke="#DF536B" stroke-linejoin="miter"/>
<path d="M535.60 385.50L538.05 390.00L533.15 390.00Z" stroke="#DF536B" stroke-linejoin="miter"/>
<circle cx="504.5" cy="413.7" r="1.95" stroke="#DF536B"/>
<circle cx="500.3" cy="415.0" r="1.95" stroke="#DF536B"/>
<circle cx="493.1" cy="416.3" r="1.95" stroke="#DF536B"/>
<circle cx="492.1" cy="418.0" r="1.95" stroke="#DF536B"/>
<circle cx="486.6" cy="427.6" r="1.95" stroke="#DF536B"/>
<circle cx="492.1" cy="435.3" r="1.95" stroke="#DF536B"/>
<circle cx="514.0" cy="428.3" r="1.95" stroke="#DF536B"/>
<circle cx="479.9" cy="442.3" r="1.95" stroke="#DF536B"/>
<circle cx="530.5" cy="462.3" r="1.95" stroke="#DF536B"/>
<circle cx="454.6" cy="426.8" r="1.95" stroke="#DF536B"/>
<circle cx="457.9" cy="442.5" r="1.95" stroke="#DF536B"/>
<circle cx="457.0" cy="449.4" r="1.95" stroke="#DF536B"/>
<circle cx="443.5" cy="450.3" r="1.95" stroke="#DF536B"/>
<circle cx="463.1" cy="452.4" r="1.95" stroke="#DF536B"/>
<circle cx="431.3" cy="456.0" r="1.95" stroke="#DF536B"/>
<circle cx="424.4" cy="464.6" r="1.95" stroke="#DF536B"/>
<circle cx="443.3" cy="449.9" r="1.95" stroke="#DF536B"/>
<circle cx="457.2" cy="449.0" r="1.95" stroke="#DF536B"/>
<circle cx="428.0" cy="470.0" r="1.95" stroke="#DF536B"/>
<circle cx="420.0" cy="474.0" r="1.95" stroke="#DF536B"/>
<circle cx="57.6" cy="163.6" r="1.95" stroke="#000000"/>
<circle cx="70.3" cy="172.6" r="1.95" stroke="#000000"/>
<circle cx="65.4" cy="151.5" r="1.95" stroke="#000000"/>
<circle cx="66.1" cy="172.3" r="1.95" stroke="#000000"/>
<circle cx="75.9" cy="166.8" r="1.95" stroke="#000000"/>
<circle cx="79.5" cy="160.3" r="1.95" stroke="#000000"/>
<circle cx="76.1" cy="161.0" r="1.95" stroke="#000000"/>
<circle cx="83.6" cy="168.7" r="1.95" stroke="#000000"/>
<circle cx="60.5" cy="162.2" r="1.95" stroke="#000000"/>
<circle cx="79.1" cy="170.7" r="1.95" stroke="#000000"/>
<circle cx="76.4" cy="165.0" r="1.95" stroke="#000000"/>
<circle cx="72.1" cy="167.6" r="1.95" stroke="#000000"/>
<circle cx="65.0" cy="159.9" r="1.95" stroke="#000000"/>
<circle cx="60.4" cy="152.5" r="1.95" stroke="#000000"/>
<circle cx="73.6" cy="166.1" r="1.95" stroke="#000000"/>
<circle cx="83.1" cy="174.1" r="1.95" stroke="#000000"/>
<circle cx="69.1" cy="159.4" r="1.95" stroke="#000000"/>
<circle cx="60.8" cy="157.5" r="1.95" stroke="#000000"/>
<circle cx="58.7" cy="158.3" r="1.95" stroke="#000000"/>
<circle cx="86.5" cy="166.0" r="1.95" stroke="#000000"/>
<circle cx="64.1" cy="157.8" r="1.95" stroke="#000000"/>
<circle cx="71.8" cy="162.0" r="1.95" stroke="#000000"/>
<circle cx="58.7" cy="157.6" r="1.95" stroke="#000000"/>
<circle cx="84.8" cy="152.0" r="1.95" stroke="#000000"/>
<circle cx="60.3" cy="163.8" r="1.95" stroke="#000000"/>
<circle cx="86.1" cy="168.6" r="1.95" stroke="#000000"/>
<circle cx="74.2" cy="171.2" r="1.95" stroke="#000000"/>
<circle cx="85.7" cy="172.0" r="1.95" stroke="#000000"/>
<circle cx="68.1" cy="153.8" r="1.95" stroke="#000000"/>
<circle cx="83.2" cy="170.3" r="1.95" stroke="#000000"/>
<circle cx="61.4" cy="171.5" r="1.95" stroke="#000000"/>
<circle cx="70.6" cy="174.0" r="1.95" stroke="#000000"/>
<circle cx="62.6" cy="154.8" r="1.95" stroke="#000000"/>
<circle cx="63.7" cy="165.2" r="1.95" stroke="#000000"/>
<circle cx="76.0" cy="175.0" r="1.95" stroke="#000000"/>
<circle cx="88.0" cy="162.6" r="1.95" stroke="#000000"/>
<circle cx="70.8" cy="152.7" r="1.95" stroke="#000000"/>
<circle cx="81.1" cy="164.3" r="1.95" stroke="#000000"/>
<circle cx="58.8" cy="164.4" r="1.95" stroke="#000000"/>
<circle cx="65.0" cy="170.9" r="1.95" stroke="#000000"/>
<circle cx="71.0" cy="166.0" r="1.95" stroke="#000000"/>
<circle cx="73.4" cy="168.5" r="1.95" stroke="#000000"/>
<circle cx="59.4" cy="160.7" r="1.95" stroke="#000000"/>
<circle cx="60.6" cy="169.2" r="1.95" stroke="#000000"/>
<circle cx="73.6" cy="157.5" r="1.95" stroke="#000000"/>
<circle cx="66.5" cy="169.4" r="1.95" stroke="#000000"/>
<circle cx="74.9" cy="160.7" r="1.95" stroke="#000000"/>
<circle cx="66.9" cy="166.3" r="1.95" stroke="#000000"/>
<circle cx="58.8" cy="155.2" r="1.95" stroke="#000000"/>
<circle cx="83.0" cy="155.4" r="1.95" stroke="#000000"/>
<circle cx="70.2" cy="175.3" r="1.95" stroke="#000000"/>
<circle cx="75.5" cy="168.7" r="1.95" stroke="#000000"/>
<circle cx="86.1" cy="161.1" r="1.95" stroke="#000000"/>
<circle cx="63.6" cy="150.4" r="1.95" stroke="#000000"/>
<circle cx="65.4" cy="162.5" r="1.95" stroke="#000000"/>
<circle cx="81.4" cy="164.1" r="1.95" stroke="#000000"/>
<circle cx="58.8" cy="172.4" r="1.95" stroke="#000000"/>
<circle cx="72.8" cy="172.9" r="1.95" stroke="#000000"/>
<circle cx="67.3" cy="172.8" r="1.95" stroke="#000000"/>
<circle cx="77.9" cy="159.5" r="1.95" stroke="#000000"/>
<circle cx="57.5" cy="170.0" r="1.95" stroke="#000000"/>
<circle cx="85.3" cy="174.0" r="1.95" stroke="#000000"/>
<circle cx="65.1" cy="154.5" r="1.95" stroke="#000000"/>
<circle cx="66.1" cy="158.1" r="1.95" stroke="#000000"/>
<circle cx="68.7" cy="161.7" r="1.95" stroke="#000000"/>
<circle cx="62.2" cy="162.6" r="1.95" stroke="#000000"/>
<circle cx="63.4" cy="165.2" r="1.95" stroke="#000000"/>
<circle cx="86.6" cy="159.1" r="1.95" stroke="#000000"/>
<circle cx="81.1" cy="166.9" r="1.95" stroke="#000000"/>
<circle cx="85.1" cy="174.7" r="1.95" stroke="#000000"/>
<circle cx="81.4" cy="172.2" r="1.95" stroke="#000000"/>
<circle cx="84.0" cy="172.6" r="1.95" stroke="#000000"/>
<circle cx="87.1" cy="168.2" r="1.95" stroke="#000000"/>
<circle cx="59.8" cy="158.2" r="1.95" stroke="#000000"/>
<circle cx="77.5" cy="168.1" r="1.95" stroke="#000000"/>
<circle cx="81.9" cy="162.6" r="1.95" stroke="#000000"/>
<circle cx="81.5" cy="154.8" r="1.95" stroke="#000000"/>
<circle cx="64.6" cy="169.6" r="1.95" stroke="#000000"/>
<circle cx="79.6" cy="170.8" r="1.95" stroke="#000000"/>
<circle cx="66.0" cy="164.6" r="1.95" stroke="#000000"/>
<circle cx="79.2" cy="168.5" r="1.95" stroke="#000000"/>
<circle cx="65.5" cy="163.0" r="1.95" stroke="#000000"/>
<circle cx="71.2" cy="155.3" r="1.95" stroke="#000000"/>
<circle cx="59.8" cy="172.4" r="1.95" stroke="#000000"/>
<circle cx="86.9" cy="168.8" r="1.95" stroke="#000000"/>
<circle cx="327.2" cy="170.3" r="1.95" stroke="#000000"/>
<circle cx="310.7" cy="167.5" r="1.95" stroke="#000000"/>
<circle cx="304.7" cy="168.6" r="1.95" stroke="#000000"/>
<circle cx="307.3" cy="169.4" r="1.95" stroke="#000000"/>
<circle cx="303.2" cy="167.0" r="1.95" stroke="#000000"/>
<circle cx="317.8" cy="167.3" r="1.95" stroke="#000000"/>
<circle cx="311.5" cy="168.2" r="1.95" stroke="#000000"/>
<circle cx="303.6" cy="172.8" r="1.95" stroke="#000000"/>
<circle cx="314.6" cy="168.9" r="1.95" stroke="#000000"/>
<circle cx="297.4" cy="168.1" r="1.95" stroke="#000000"/>
<circle cx="326.8" cy="174.2" r="1.95" stroke="#000000"/>
<circle cx="309.3" cy="170.9" r="1.95" stroke="#000000"/>
<circle cx="298.7" cy="170.6" r="1.95" stroke="#000000"/>
<circle cx="304.0" cy="166.7" r="1.95" stroke="#000000"/>
<circle cx="311.5" cy="171.8" r="1.95" stroke="#000000"/>
<circle cx="320.7" cy="172.7" r="1.95" stroke="#000000"/>
<circle cx="310.9" cy="171.3" r="1.95" stroke="#000000"/>
<circle cx="317.9" cy="167.6" r="1.95" stroke="#000000"/>
<circle cx="303.3" cy="172.5" r="1.95" stroke="#000000"/>
<circle cx="313.4" cy="171.7" r="1.95" stroke="#000000"/>
<circle cx="302.3" cy="172.0" r="1.95" stroke="#000000"/>
<circle cx="311.6" cy="166.5" r="1.95" stroke="#000000"/>
<circle cx="312.4" cy="173.1" r="1.95" stroke="#000000"/>
<circle cx="301.3" cy="175.0" r="1.95" stroke="#000000"/>
<circle cx="305.5" cy="175.3" r="1.95" stroke="#000000"/>
<circle cx="302.2" cy="174.4" r="1.95" stroke="#000000"/>
<circle cx="300.9" cy="166.3" r="1.95" stroke="#000000"/>
<circle cx="299.4" cy="168.9" r="1.95" stroke="#000000"/>
<circle cx="318.6" cy="168.7" r="1.95" stroke="#000000"/>
<circle cx="306.3" cy="165.5" r="1.95" stroke="#000000"/>
<circle cx="324.4" cy="169.5" r="1.95" stroke="#000000"/>
<circle cx="324.0" cy="174.5" r="1.95" stroke="#000000"/>
<circle cx="305.7" cy="167.1" r="1.95" stroke="#000000"/>
<circle cx="303.3" cy="169.4" r="1.95" stroke="#000000"/>
<circle cx="323.7" cy="174.1" r="1.95" stroke="#000000"/>
<circle cx="322.6" cy="172.1" r="1.95" stroke="#000000"/>
<circle cx="321.9" cy="166.7" r="1.95" stroke="#000000"/>
<circle cx="310.5" cy="166.5" r="1.95" stroke="#000000"/>
<circle cx="317.0" cy="173.1" r="1.95" stroke="#000000"/>
<circle cx="325.3" cy="173.0" r="1.95" stroke="#000000"/>
<circle cx="307.8" cy="174.1" r="1.95" stroke="#000000"/>
<circle cx="303.2" cy="166.7" r="1.95" stroke="#000000"/>
<circle cx="326.7" cy="171.7" r="1.95" stroke="#000000"/>
<circle cx="326.0" cy="169.7" r="1.95" stroke="#000000"/>
<circle cx="297.9" cy="171.9" r="1.95" stroke="#000000"/>
<circle cx="302.1" cy="168.5" r="1.95" stroke="#000000"/>
<circle cx="318.1" cy="166.1" r="1.95" stroke="#000000"/>
<circle cx="306.1" cy="173.2" r="1.95" stroke="#000000"/>
<circle cx="297.8" cy="168.9" r="1.95" stroke="#000000"/>
<circle cx="300.1" cy="173.4" r="1.95" stroke="#000000"/>
<circle cx="305.6" cy="171.5" r="1.95" stroke="#000000"/>
<circle cx="301.3" cy="173.9" r="1.95" stroke="#000000"/>
<circle cx="309.7" cy="175.3" r="1.95" stroke="#000000"/>
<circle cx="326.7" cy="169.9" r="1.95" stroke="#000000"/>
<circle cx="297.3" cy="172.3" r="1.95" stroke="#000000"/>
<circle cx="317.0" cy="175.4" r="1.95" stroke="#000000"/>
<circle cx="323.1" cy="166.3" r="1.95" stroke="#000000"/>
<circle cx="300.8" cy="166.3" r="1.95" stroke="#000000"/>
<circle cx="313.2" cy="168.8" r="1.95" stroke="#000000"/>
<circle cx="316.2" cy="171.3" r="1.95" stroke="#000000"/>
<circle cx="305.3" cy="169.3" r="1.95" stroke="#000000"/>
<circle cx="309.8" cy="172.9" r="1.95" stroke="#000000"/>
<circle cx="316.9" cy="170.3" r="1.95" stroke="#000000"/>
<circle cx="322.3" cy="174.7" r="1.95" stroke="#000000"/>
<circle cx="300.6" cy="170.1" r="1.95" stroke="#000000"/>
<circle cx="298.8" cy="169.5" r="1.95" stroke="#000000"/>
<circle cx="310.4" cy="170.7" r="1.95" stroke="#000000"/>
<circle cx="321.1" cy="174.7" r="1.95" stroke="#000000"/>
<circle cx="301.7" cy="166.9" r="1.95" stroke="#000000"/>
<circle cx="313.6" cy="172.5" r="1.95" stroke="#000000"/>
<circle cx="326.3" cy="171.3" r="1.95" stroke="#000000"/>
<circle cx="308.6" cy="175.0" r="1.95" stroke="#000000"/>
<circle cx="307.3" cy="174.5" r="1.95" stroke="#000000"/>
<circle cx="300.5" cy="174.2" r="1.95" stroke="#000000"/>
<circle cx="318.6" cy="167.7" r="1.95" stroke="#000000"/>
<circle cx="556.2" cy="162.6" r="1.95" stroke="#000000"/>
<circle cx="542.2" cy="168.8" r="1.95" stroke="#000000"/>
<circle cx="537.8" cy="160.5" r="1.95" stroke="#000000"/>
<circle cx="555.0" cy="167.0" r="1.95" stroke="#000000"/>
<circle cx="556.5" cy="163.8" r="1.95" stroke="#000000"/>
<circle cx="557.0" cy="174.9" r="1.95" stroke="#000000"/>
<circle cx="548.5" cy="157.9" r="1.95" stroke="#000000"/>
<circle cx="557.2" cy="166.2" r="1.95" stroke="#000000"/>
<circle cx="548.6" cy="157.2" r="1.95" stroke="#000000"/>
<circle cx="540.3" cy="159.2" r="1.95" stroke="#000000"/>
<circle cx="562.2" cy="170.5" r="1.95" stroke="#000000"/>
<circle cx="564.4" cy="171.4" r="1.95" stroke="#000000"/>
<circle cx="560.7" cy="163.2" r="1.95" stroke="#000000"/>
<circle cx="537.8" cy="157.0" r="1.95" stroke="#000000"/>
<circle cx="546.1" cy="171.5" r="1.95" stroke="#000000"/>
<circle cx="564.4" cy="170.4" r="1.95" stroke="#000000"/>
<circle cx="545.8" cy="175.1" r="1.95" stroke="#000000"/>
<circle cx="542.6" cy="175.9" r="1.95" stroke="#000000"/>
<circle cx="550.9" cy="174.0" r="1.95" stroke="#000000"/>
<circle cx="554.5" cy="159.1" r="1.95" stroke="#000000"/>
<circle cx="556.8" cy="170.0" r="1.95" stroke="#000000"/>
<circle cx="536.4" cy="167.0" r="1.95" stroke="#000000"/>
<circle cx="537.9" cy="156.3" r="1.95" stroke="#000000"/>
<circle cx="556.7" cy="158.5" r="1.95" stroke="#000000"/>
<circle cx="537.5" cy="171.7" r="1.95" stroke="#000000"/>
<circle cx="545.5" cy="162.4" r="1.95" stroke="#000000"/>
<circle cx="552.1" cy="174.3" r="1.95" stroke="#000000"/>
<circle cx="549.7" cy="172.1" r="1.95" stroke="#000000"/>
<circle cx="559.4" cy="165.6" r="1.95" stroke="#000000"/>
<circle cx="551.7" cy="172.8" r="1.95" stroke="#000000"/>
<circle cx="536.9" cy="172.6" r="1.95" stroke="#000000"/>
<circle cx="562.3" cy="168.1" r="1.95" stroke="#000000"/>
<circle cx="543.5" cy="175.7" r="1.95" stroke="#000000"/>
<circle cx="547.7" cy="175.3" r="1.95" stroke="#000000"/>
<circle cx="561.1" cy="168.6" r="1.95" stroke="#000000"/>
<circle cx="557.8" cy="171.3" r="1.95" stroke="#000000"/>
<circle cx="549.8" cy="172.2" r="1.95" stroke="#000000"/>
<circle cx="542.6" cy="155.9" r="1.95" stroke="#000000"/>
<circle cx="559.3" cy="174.1" r="1.95" stroke="#000000"/>
<circle cx="539.6" cy="157.4" r="1.95" stroke="#000000"/>
<circle cx="552.8" cy="155.0" r="1.95" stroke="#000000"/>
<circle cx="562.6" cy="171.0" r="1.95" stroke="#000000"/>
<circle cx="541.1" cy="168.4" r="1.95" stroke="#000000"/>
<circle cx="541.4" cy="161.4" r="1.95" stroke="#000000"/>
<circle cx="548.4" cy="172.6" r="1.95" stroke="#000000"/>
<circle cx="552.0" cy="168.2" r="1.95" stroke="#000000"/>
<circle cx="539.1" cy="167.4" r="1.95" stroke="#000000"/>
<circle cx="565.7" cy="172.2" r="1.95" stroke="#000000"/>
<circle cx="564.7" cy="169.5" r="1.95" stroke="#000000"/>
<circle cx="559.7" cy="168.1" r="1.95" stroke="#000000"/>
<circle cx="549.2" cy="163.2" r="1.95" stroke="#000000"/>
<circle cx="541.6" cy="169.7" r="1.95" stroke="#000000"/>
<circle cx="546.7" cy="157.9" r="1.95" stroke="#000000"/>
<circle cx="548.1" cy="156.4" r="1.95" stroke="#000000"/>
<circle cx="562.0" cy="173.2" r="1.95" stroke="#000000"/>
<circle cx="550.9" cy="166.2" r="1.95" stroke="#000000"/>
<circle cx="557.0" cy="173.4" r="1.95" stroke="#000000"/>
<circle cx="538.5" cy="173.8" r="1.95" stroke="#000000"/>
<circle cx="547.5" cy="157.6" r="1.95" stroke="#000000"/>
<circle cx="560.0" cy="158.4" r="1.95" stroke="#000000"/>
<circle cx="544.9" cy="163.9" r="1.95" stroke="#000000"/>
<circle cx="556.9" cy="169.0" r="1.95" stroke="#000000"/>
<circle cx="566.6" cy="172.5" r="1.95" stroke="#000000"/>
<circle cx="563.9" cy="168.2" r="1.95" stroke="#000000"/>
<circle cx="557.6" cy="157.5" r="1.95" stroke="#000000"/>
<circle cx="558.1" cy="175.5" r="1.95" stroke="#000000"/>
<circle cx="549.8" cy="175.2" r="1.95" stroke="#000000"/>
<circle cx="543.5" cy="157.1" r="1.95" stroke="#000000"/>
<circle cx="550.8" cy="166.3" r="1.95" stroke="#000000"/>
<circle cx="564.3" cy="161.0" r="1.95" stroke="#000000"/>
<circle cx="556.9" cy="168.3" r="1.95" stroke="#000000"/>
<circle cx="547.2" cy="163.8" r="1.95" stroke="#000000"/>
<circle cx="72.7" cy="476.5" r="1.95" stroke="#000000"/>
<circle cx="82.0" cy="467.1" r="1.95" stroke="#000000"/>
<circle cx="63.1" cy="469.3" r="1.95" stroke="#000000"/>
<circle cx="76.2" cy="475.7" r="1.95" stroke="#000000"/>
<circle cx="73.8" cy="472.2" r="1.95" stroke="#000000"/>
<circle cx="76.3" cy="475.6" r="1.95" stroke="#000000"/>
<circle cx="74.7" cy="471.8" r="1.95" stroke="#000000"/>
<circle cx="77.6" cy="471.3" r="1.95" stroke="#000000"/>
<circle cx="61.1" cy="472.9" r="1.95" stroke="#000000"/>
<circle cx="76.2" cy="466.3" r="1.95" stroke="#000000"/>
<circle cx="80.6" cy="470.6" r="1.95" stroke="#000000"/>
<circle cx="81.5" cy="470.9" r="1.95" stroke="#000000"/>
<circle cx="67.1" cy="471.2" r="1.95" stroke="#000000"/>
<circle cx="75.3" cy="473.8" r="1.95" stroke="#000000"/>
<circle cx="76.0" cy="476.2" r="1.95" stroke="#000000"/>
<circle cx="64.5" cy="474.3" r="1.95" stroke="#000000"/>
<circle cx="83.2" cy="468.9" r="1.95" stroke="#000000"/>
<circle cx="66.4" cy="470.9" r="1.95" stroke="#000000"/>
<circle cx="81.0" cy="466.2" r="1.95" stroke="#000000"/>
<circle cx="75.3" cy="467.4" r="1.95" stroke="#000000"/>
<circle cx="80.6" cy="470.7" r="1.95" stroke="#000000"/>
<circle cx="77.8" cy="476.5" r="1.95" stroke="#000000"/>
<circle cx="82.2" cy="471.4" r="1.95" stroke="#000000"/>
<circle cx="68.5" cy="477.8" r="1.95" stroke="#000000"/>
<circle cx="77.2" cy="471.5" r="1.95" stroke="#000000"/>
<circle cx="81.4" cy="464.4" r="1.95" stroke="#000000"/>
<circle cx="73.8" cy="476.2" r="1.95" stroke="#000000"/>
<circle cx="72.7" cy="475.8" r="1.95" stroke="#000000"/>
<circle cx="61.9" cy="471.6" r="1.95" stroke="#000000"/>
<circle cx="62.6" cy="474.8" r="1.95" stroke="#000000"/>
<circle cx="81.3" cy="475.2" r="1.95" stroke="#000000"/>
<circle cx="70.1" cy="471.2" r="1.95" stroke="#000000"/>
<circle cx="77.7" cy="466.2" r="1.95" stroke="#000000"/>
<circle cx="67.6" cy="469.6" r="1.95" stroke="#000000"/>
<circle cx="75.4" cy="475.6" r="1.95" stroke="#000000"/>
<circle cx="83.3" cy="468.9" r="1.95" stroke="#000000"/>
<circle cx="62.8" cy="475.4" r="1.95" stroke="#000000"/>
<circle cx="72.9" cy="477.4" r="1.95" stroke="#000000"/>
<circle cx="73.1" cy="472.3" r="1.95" stroke="#000000"/>
<circle cx="76.7" cy="466.8" r="1.95" stroke="#000000"/>
<circle cx="78.0" cy="472.5" r="1.95" stroke="#000000"/>
<circle cx="74.0" cy="474.9" r="1.95" stroke="#000000"/>
<circle cx="58.1" cy="468.8" r="1.95" stroke="#000000"/>
<circle cx="58.7" cy="468.0" r="1.95" stroke="#000000"/>
<circle cx="75.3" cy="468.1" r="1.95" stroke="#000000"/>
<circle cx="81.9" cy="468.7" r="1.95" stroke="#000000"/>
<circle cx="58.8" cy="463.0" r="1.95" stroke="#000000"/>
<circle cx="78.2" cy="470.4" r="1.95" stroke="#000000"/>
<circle cx="63.1" cy="476.7" r="1.95" stroke="#000000"/>
<circle cx="59.6" cy="469.0" r="1.95" stroke="#000000"/>
<circle cx="61.1" cy="468.7" r="1.95" stroke="#000000"/>
<circle cx="57.2" cy="464.5" r="1.95" stroke="#000000"/>
<circle cx="61.3" cy="470.8" r="1.95" stroke="#000000"/>
<circle cx="60.0" cy="475.2" r="1.95" stroke="#000000"/>
<circle cx="56.9" cy="471.6" r="1.95" stroke="#000000"/>
<circle cx="74.7" cy="473.8" r="1.95" stroke="#000000"/>
<circle cx="67.8" cy="474.1" r="1.95" stroke="#000000"/>
<circle cx="81.5" cy="465.5" r="1.95" stroke="#000000"/>
<circle cx="83.3" cy="469.0" r="1.95" stroke="#000000"/>
<circle cx="60.2" cy="476.6" r="1.95" stroke="#000000"/>
<circle cx="59.5" cy="466.3" r="1.95" stroke="#000000"/>
<circle cx="69.1" cy="469.5" r="1.95" stroke="#000000"/>
<circle cx="78.2" cy="476.2" r="1.95" stroke="#000000"/>
<circle cx="64.8" cy="473.9" r="1.95" stroke="#000000"/>
<circle cx="70.7" cy="469.5" r="1.95" stroke="#000000"/>
<circle cx="62.4" cy="476.2" r="1.95" stroke="#000000"/>
<circle cx="57.2" cy="473.6" r="1.95" stroke="#000000"/>
<circle cx="73.5" cy="469.7" r="1.95" stroke="#000000"/>
<circle cx="448.4" cy="449.8" r="1.95" stroke="#000000"/>
<circle cx="444.8" cy="457.2" r="1.95" stroke="#000000"/>
<circle cx="429.6" cy="468.5" r="1.95" stroke="#000000"/>
<circle cx="430.0" cy="463.6" r="1.95" stroke="#000000"/>
<circle cx="422.9" cy="470.3" r="1.95" stroke="#000000"/>
<circle cx="424.6" cy="469.1" r="1.95" stroke="#000000"/>
<circle cx="431.5" cy="464.7" r="1.95" stroke="#000000"/>
<circle cx="420.1" cy="471.5" r="1.95" stroke="#000000"/>
<circle cx="435.0" cy="467.8" r="1.95" stroke="#000000"/>
<circle cx="427.9" cy="466.7" r="1.95" stroke="#000000"/>
<circle cx="414.4" cy="477.7" r="1.95" stroke="#000000"/>
<circle cx="430.3" cy="472.5" r="1.95" stroke="#000000"/>
<circle cx="436.6" cy="463.3" r="1.95" stroke="#000000"/>
<circle cx="442.4" cy="455.4" r="1.95" stroke="#000000"/>
<circle cx="425.3" cy="474.5" r="1.95" stroke="#000000"/>
<circle cx="435.7" cy="463.3" r="1.95" stroke="#000000"/>
<circle cx="435.5" cy="466.3" r="1.95" stroke="#000000"/>
<circle cx="430.3" cy="468.2" r="1.95" stroke="#000000"/>
<circle cx="446.4" cy="450.7" r="1.95" stroke="#000000"/>
<circle cx="433.4" cy="463.6" r="1.95" stroke="#000000"/>
<circle cx="445.2" cy="455.9" r="1.95" stroke="#000000"/>
<circle cx="432.8" cy="465.5" r="1.95" stroke="#000000"/>
<circle cx="418.2" cy="473.4" r="1.95" stroke="#000000"/>
<circle cx="444.5" cy="456.6" r="1.95" stroke="#000000"/>
<circle cx="424.5" cy="467.4" r="1.95" stroke="#000000"/>
<circle cx="416.8" cy="476.0" r="1.95" stroke="#000000"/>
<circle cx="442.4" cy="458.6" r="1.95" stroke="#000000"/>
<circle cx="448.8" cy="448.8" r="1.95" stroke="#000000"/>
<circle cx="448.4" cy="449.2" r="1.95" stroke="#000000"/>
<circle cx="439.9" cy="457.7" r="1.95" stroke="#000000"/>
<circle cx="426.6" cy="468.4" r="1.95" stroke="#000000"/>
<circle cx="430.1" cy="470.5" r="1.95" stroke="#000000"/>
<circle cx="444.7" cy="455.2" r="1.95" stroke="#000000"/>
<circle cx="416.3" cy="474.6" r="1.95" stroke="#000000"/>
<circle cx="428.3" cy="473.0" r="1.95" stroke="#000000"/>
<circle cx="438.4" cy="461.6" r="1.95" stroke="#000000"/>
<circle cx="417.0" cy="473.5" r="1.95" stroke="#000000"/>
<circle cx="425.8" cy="475.6" r="1.95" stroke="#000000"/>
<circle cx="447.1" cy="448.5" r="1.95" stroke="#000000"/>
<circle cx="419.9" cy="471.2" r="1.95" stroke="#000000"/>
<circle cx="451.2" cy="450.6" r="1.95" stroke="#000000"/>
<circle cx="427.3" cy="465.4" r="1.95" stroke="#000000"/>
<circle cx="447.1" cy="453.3" r="1.95" stroke="#000000"/>
<circle cx="432.7" cy="463.4" r="1.95" stroke="#000000"/>
<circle cx="419.7" cy="472.0" r="1.95" stroke="#000000"/>
<circle cx="423.6" cy="469.6" r="1.95" stroke="#000000"/>
<circle cx="430.3" cy="469.8" r="1.95" stroke="#000000"/>
<circle cx="450.2" cy="450.4" r="1.95" stroke="#000000"/>
<circle cx="430.5" cy="465.8" r="1.95" stroke="#000000"/>
<circle cx="427.4" cy="466.5" r="1.95" stroke="#000000"/>
<circle cx="434.2" cy="465.9" r="1.95" stroke="#000000"/>
<circle cx="432.4" cy="465.5" r="1.95" stroke="#000000"/>
<circle cx="433.5" cy="466.8" r="1.95" stroke="#000000"/>
<circle cx="415.9" cy="476.1" r="1.95" stroke="#000000"/>
<circle cx="417.4" cy="474.1" r="1.95" stroke="#000000"/>
<circle cx="418.7" cy="472.9" r="1.95" stroke="#000000"/>
<circle cx="446.8" cy="448.8" r="1.95" stroke="#000000"/>
<circle cx="416.2" cy="475.0" r="1.95" stroke="#000000"/>
<circle cx="440.9" cy="458.8" r="1.95" stroke="#000000"/>
<circle cx="419.3" cy="475.7" r="1.95" stroke="#000000"/>
</g>
</g>
</svg>
</body></html>
